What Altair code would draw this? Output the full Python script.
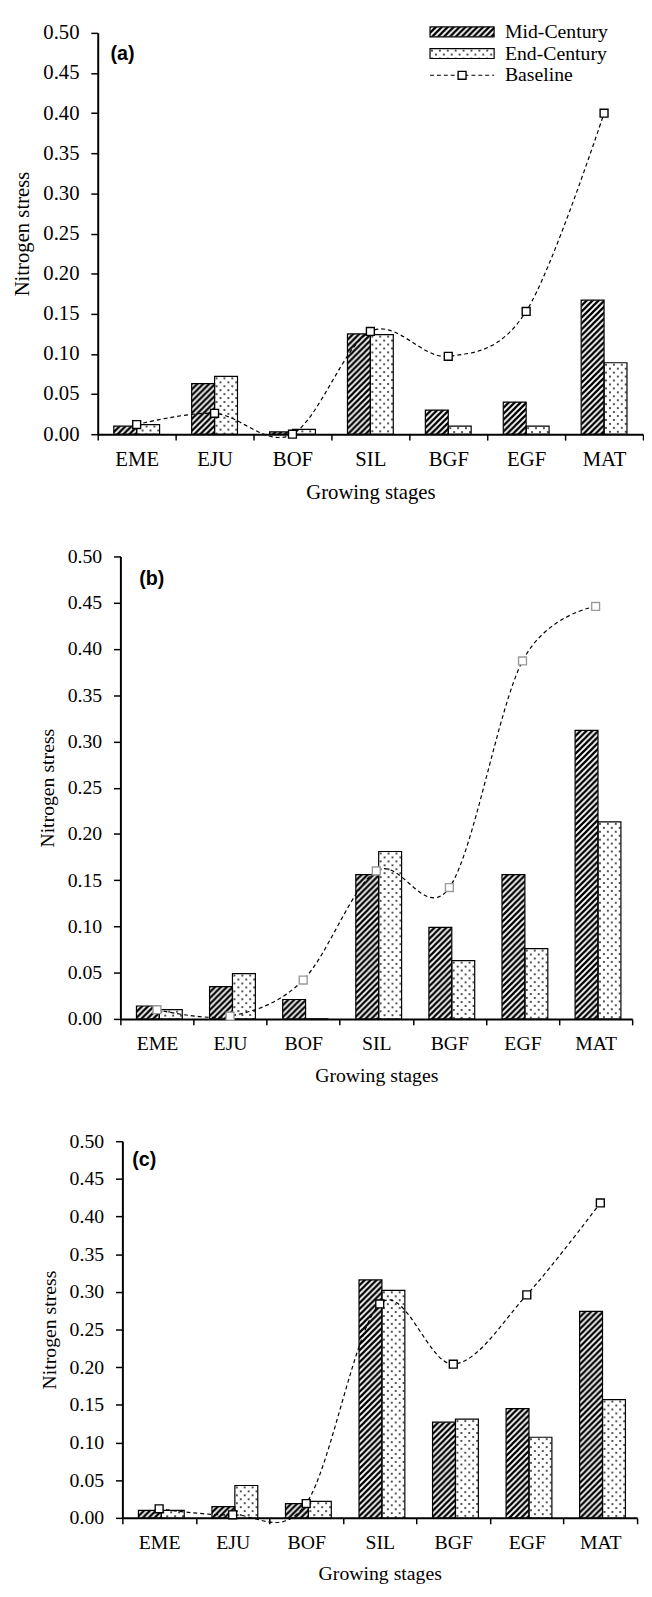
import altair as alt
import pandas as pd
import base64

stages = ["EME", "EJU", "BOF", "SIL", "BGF", "EGF", "MAT"]
series = ["Mid-Century", "End-Century"]

a_mid = [0.010, 0.063, 0.003, 0.125, 0.030, 0.040, 0.167]
a_end = [0.012, 0.072, 0.006, 0.124, 0.010, 0.010, 0.089]
a_base = [0.012, 0.026, 0.000, 0.128, 0.097, 0.153, 0.400]

b_mid = [0.014, 0.035, 0.021, 0.156, 0.099, 0.156, 0.312]
b_end = [0.010, 0.049, 0.000, 0.181, 0.063, 0.076, 0.213]
b_base = [0.010, 0.003, 0.042, 0.160, 0.142, 0.387, 0.446]

c_mid = [0.010, 0.015, 0.019, 0.316, 0.127, 0.145, 0.274]
c_end = [0.010, 0.043, 0.022, 0.302, 0.131, 0.107, 0.157]
c_base = [0.012, 0.004, 0.019, 0.284, 0.204, 0.296, 0.418]

yticks = [0.00, 0.05, 0.10, 0.15, 0.20, 0.25, 0.30, 0.35, 0.40, 0.45, 0.50]


def svg_url(svg):
    return "data:image/svg+xml;base64," + base64.b64encode(svg.encode("utf-8")).decode("ascii")


HATCH = svg_url(
    "<svg xmlns='http://www.w3.org/2000/svg' width='100%' height='100%'>"
    "<defs><pattern id='p' patternUnits='userSpaceOnUse' width='6' height='6'>"
    "<rect width='6' height='6' fill='white'/>"
    "<path d='M-1.5,1.5 L1.5,-1.5 M0,6 L6,0 M4.5,7.5 L7.5,4.5' stroke='black' stroke-width='2.3'/>"
    "</pattern></defs><rect width='100%' height='100%' fill='url(#p)'/></svg>"
)
DOTS = svg_url(
    "<svg xmlns='http://www.w3.org/2000/svg' width='100%' height='100%'>"
    "<defs><pattern id='d' patternUnits='userSpaceOnUse' width='8' height='8'>"
    "<rect width='8' height='8' fill='white'/>"
    "<circle cx='2' cy='2' r='0.9' fill='black'/><circle cx='6' cy='6' r='0.9' fill='black'/>"
    "</pattern></defs><rect width='100%' height='100%' fill='url(#d)'/></svg>"
)

SERIF = "Liberation Serif"


def panel(mid, end, base, letter, height, x0, x1, label_xy, marker_color, fs, legend=False):
    bars = pd.DataFrame({
        "stage": stages * 2,
        "series": [series[0]] * 7 + [series[1]] * 7,
        "value": mid + end,
        "url": [HATCH] * 7 + [DOTS] * 7,
    })
    line = pd.DataFrame({"stage": stages, "value": base})

    x = alt.X(
        "stage:N", sort=stages,
        scale=alt.Scale(domain=stages, range=[x0, x1], paddingInner=0, paddingOuter=0),
        axis=alt.Axis(title="Growing stages", tickBand="extent", labelAngle=0, tickSize=6,
                      labelPadding=9, titlePadding=12, domainWidth=2, tickWidth=1.5,
                      labelFont=SERIF, titleFont=SERIF, labelFontSize=fs, titleFontSize=fs,
                      titleFontWeight="normal"),
    )
    y = alt.Y(
        "value:Q",
        scale=alt.Scale(domain=[0, 0.5], nice=False),
        axis=alt.Axis(title="Nitrogen stress", values=yticks, format=".2f", tickSize=7,
                      labelPadding=12, titlePadding=10, domainWidth=2, tickWidth=1.5,
                      offset=-x0, labelFlush=False, labelOverlap=False,
                      labelFont=SERIF, titleFont=SERIF, labelFontSize=fs, titleFontSize=fs,
                      titleFontWeight="normal"),
    )
    xoff = alt.XOffset("series:N", sort=series,
                       scale=alt.Scale(domain=series, paddingInner=0, paddingOuter=0.7))

    img = alt.Chart(bars).mark_image(aspect=False).encode(
        x=x, xOffset=xoff, y=y, y2=alt.datum(0), url="url:N"
    )
    outline = alt.Chart(bars).mark_bar(fillOpacity=0, stroke="black", strokeWidth=1.2).encode(
        x=x, xOffset=xoff, y=y, y2=alt.datum(0)
    )
    curve = alt.Chart(line).mark_line(
        interpolate="cardinal", tension=0, color="black", strokeWidth=1.2, strokeDash=[4, 3]
    ).encode(x=x, y=y)
    pts = alt.Chart(line).mark_point(
        shape="square", filled=True, fill="white", stroke=marker_color, strokeWidth=1.4,
        size=64, opacity=1
    ).encode(x=x, y=y)
    lab = alt.Chart(pd.DataFrame({"t": [letter]})).mark_text(
        align="left", baseline="middle", font="Liberation Sans", fontWeight="bold",
        fontSize=20, color="black"
    ).encode(x=alt.value(label_xy[0]), y=alt.value(label_xy[1]), text="t:N")

    layers = [img, outline, curve, pts, lab]

    if legend:
        one = pd.DataFrame({"t": ["x"]})
        lx0, lx1, tx = 337, 402, 413
        sw1 = alt.Chart(one).mark_image(aspect=False).encode(
            x=alt.value(lx0), x2=alt.value(lx1), y=alt.value(-6), y2=alt.value(4),
            url=alt.value(HATCH))
        sw1o = alt.Chart(one).mark_rect(fillOpacity=0, stroke="black", strokeWidth=1.2).encode(
            x=alt.value(lx0), x2=alt.value(lx1), y=alt.value(-6), y2=alt.value(4))
        sw2 = alt.Chart(one).mark_image(aspect=False).encode(
            x=alt.value(lx0), x2=alt.value(lx1), y=alt.value(16), y2=alt.value(26),
            url=alt.value(DOTS))
        sw2o = alt.Chart(one).mark_rect(fillOpacity=0, stroke="black", strokeWidth=1.2).encode(
            x=alt.value(lx0), x2=alt.value(lx1), y=alt.value(16), y2=alt.value(26))
        lr = alt.Chart(one).mark_rule(color="black", strokeWidth=1.2, strokeDash=[4, 3]).encode(
            x=alt.value(lx0), x2=alt.value(lx1), y=alt.value(43))
        lp = alt.Chart(one).mark_point(
            shape="square", filled=True, fill="white", stroke="black", strokeWidth=1.4,
            size=64, opacity=1).encode(x=alt.value((lx0 + lx1) / 2), y=alt.value(43))
        texts = pd.DataFrame({"t": ["Mid-Century", "End-Century", "Baseline"]})
        lt = [
            alt.Chart(texts.iloc[[i]]).mark_text(
                align="left", baseline="middle", font=SERIF, fontSize=20, color="black"
            ).encode(x=alt.value(tx), y=alt.value(yy), text="t:N")
            for i, yy in enumerate([-1, 21, 43])
        ]
        layers += [sw1, sw1o, sw2, sw2o, lr, lp] + lt

    return alt.layer(*layers).properties(width=x1, height=height)


pa = panel(a_mid, a_end, a_base, "(a)", 407, 0, 553, (13, 22), "black", 21, legend=True)
pb = panel(b_mid, b_end, b_base, "(b)", 469, 23, 542, (42, 23), "#9a9a9a", 20)
pc = panel(c_mid, c_end, c_base, "(c)", 382, 25, 547, (35, 19), "black", 20)

chart = alt.vconcat(pa, pb, pc, spacing=124, bounds="flush").properties(
    padding={"left": 4, "top": 3, "right": 0, "bottom": 0}
).configure_axis(
    labelFont=SERIF, titleFont=SERIF, labelFontSize=20, titleFontSize=20,
    titleFontWeight="normal", labelColor="black", titleColor="black",
    domainColor="black", tickColor="black", grid=False,
).configure_view(stroke=None)

chart.save("out.html", embed_options={"renderer": "svg", "actions": False})
